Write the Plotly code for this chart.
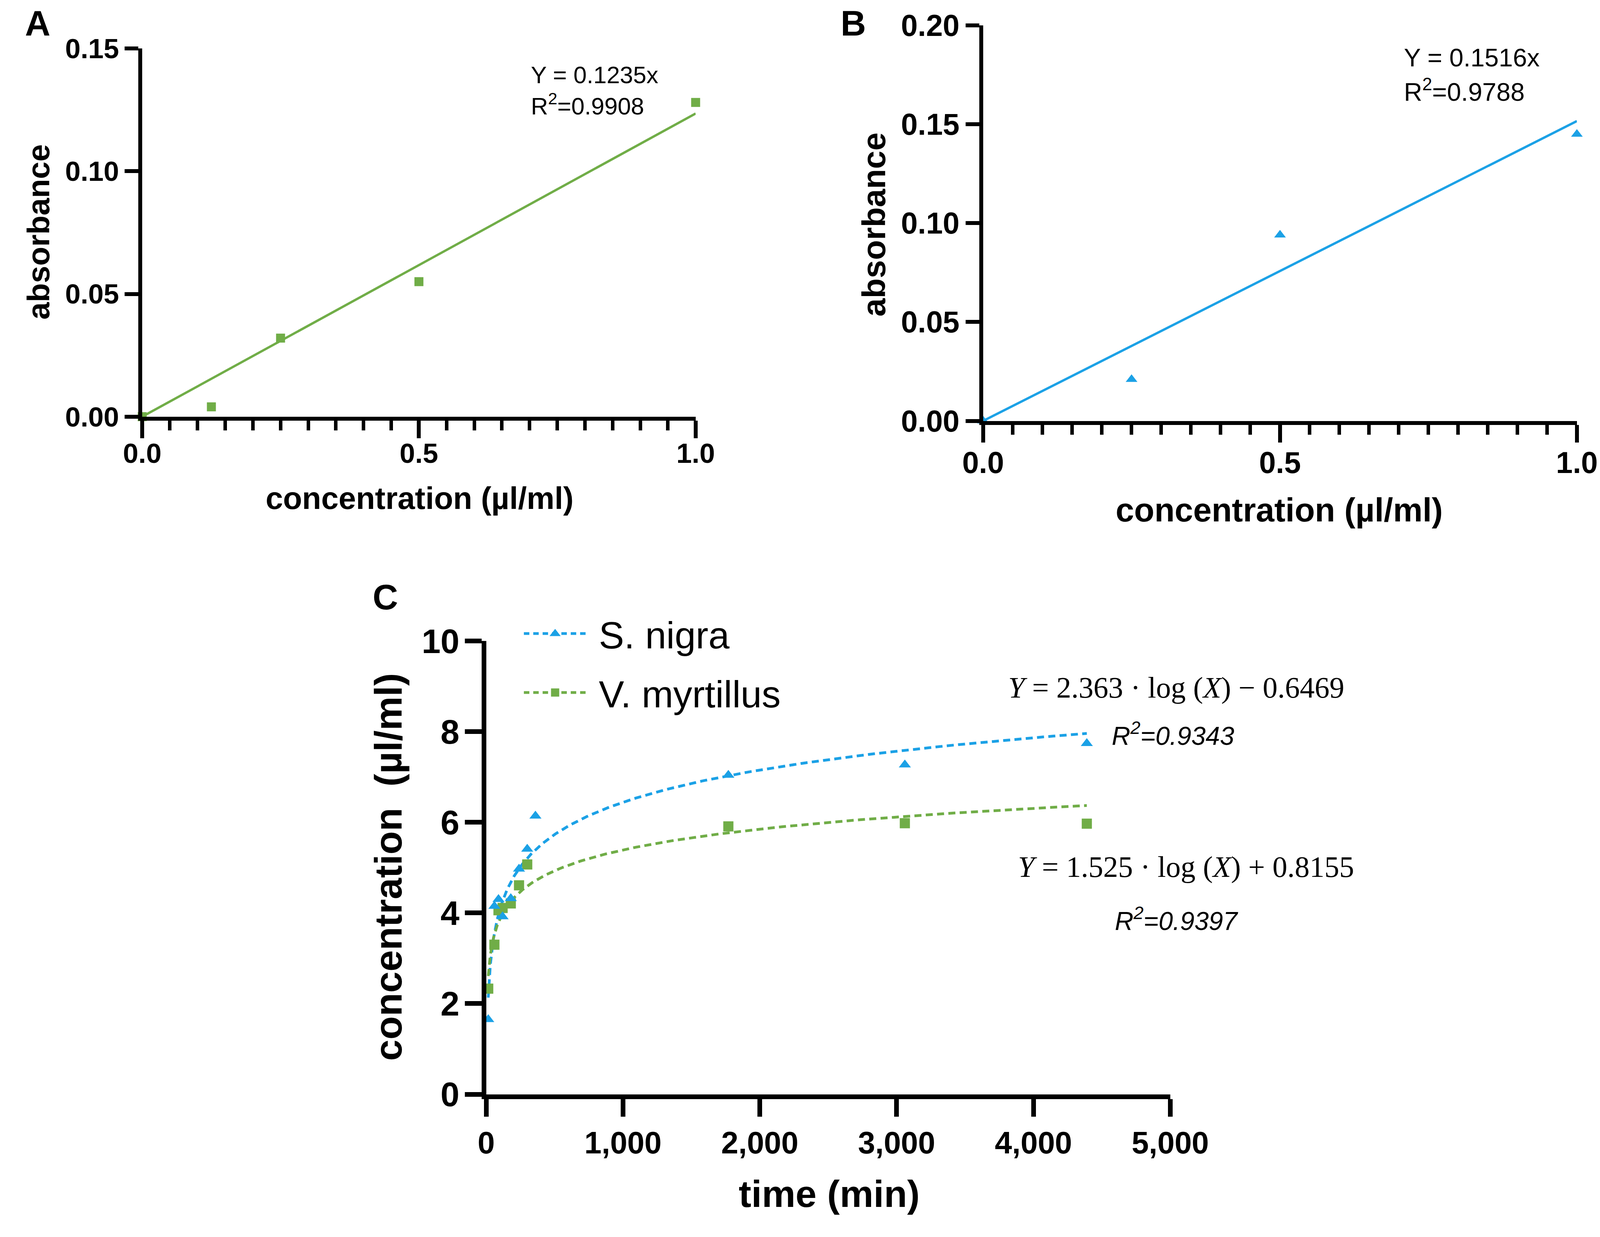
import numpy as np
import plotly.graph_objects as go

W, H = 4159, 3167
SANS = "Liberation Sans, Arial, sans-serif"
SERIF = "Liberation Serif, Times New Roman, serif"
GREEN = "#70AD47"
BLUE = "#1BA1E6"

# panel A - V. myrtillus standard curve
a_conc = [0.0, 0.125, 0.25, 0.5, 1.0]
a_abs = [0.0, 0.004, 0.032, 0.055, 0.128]
a_slope = 0.1235
a_r2 = 0.9908

# panel B - S. nigra standard curve
b_conc = [0.0, 0.25, 0.5, 1.0]
b_abs = [0.0, 0.021, 0.094, 0.145]
b_slope = 0.1516
b_r2 = 0.9788

# panel C - release over time
time_sn = [15, 60, 90, 120, 180, 240, 300, 360, 1770, 3060, 4390]
conc_sn = [1.65, 4.15, 4.30, 3.92, 4.32, 4.97, 5.41, 6.14, 7.04, 7.27, 7.74]
time_vm = [15, 60, 90, 120, 180, 240, 300, 1770, 3060, 4390]
conc_vm = [2.33, 3.30, 4.06, 4.11, 4.21, 4.61, 5.07, 5.91, 5.98, 5.97]
fit_sn = (2.363, -0.6469, 0.9343)   # slope, intercept, R2 (log10)
fit_vm = (1.525, 0.8155, 0.9397)

# layout positions are measured in target pixels; the capture comes out a bit
# shrunk and shifted, so map through a small correction
OX, OY, SX, SY = 55, 55, 0.979, 0.984


def px_x(p):
    return (p - OX) / SX / W


def px_y(p):
    return 1 - (p - OY) / SY / H


fig = go.Figure()

# A
xa = [min(a_conc), max(a_conc)]
fig.add_trace(go.Scatter(x=xa, y=[a_slope * v for v in xa], mode="lines",
                         line=dict(color=GREEN, width=6), showlegend=False,
                         xaxis="x", yaxis="y"))
fig.add_trace(go.Scatter(x=a_conc, y=a_abs, mode="markers", cliponaxis=False,
                         marker=dict(symbol="square", size=23, color=GREEN),
                         showlegend=False, xaxis="x", yaxis="y"))

# B
xb = [min(b_conc), max(b_conc)]
fig.add_trace(go.Scatter(x=xb, y=[b_slope * v for v in xb], mode="lines",
                         line=dict(color=BLUE, width=6), showlegend=False,
                         xaxis="x2", yaxis="y2"))
fig.add_trace(go.Scatter(x=b_conc, y=b_abs, mode="markers", cliponaxis=False,
                         marker=dict(symbol="triangle-up", size=26, color=BLUE),
                         showlegend=False, xaxis="x2", yaxis="y2"))

# C fit curves
dash = "18px,11px"
for t, (k, b, _), col in [(time_sn, fit_sn, BLUE), (time_vm, fit_vm, GREEN)]:
    xf = np.geomspace(min(t), max(t), 300)
    fig.add_trace(go.Scatter(x=xf, y=k * np.log10(xf) + b, mode="lines",
                             line=dict(color=col, width=7, dash=dash),
                             showlegend=False, xaxis="x3", yaxis="y3"))

fig.add_trace(go.Scatter(x=time_vm, y=conc_vm, mode="markers", cliponaxis=False,
                         marker=dict(symbol="square", size=26, color=GREEN),
                         showlegend=False, xaxis="x3", yaxis="y3"))
fig.add_trace(go.Scatter(x=time_sn, y=conc_sn, mode="markers", cliponaxis=False,
                         marker=dict(symbol="triangle-up", size=27, color=BLUE),
                         showlegend=False, xaxis="x3", yaxis="y3"))

# legend entries (line + marker); outline makes the capped legend marker larger
for name, sym, col, grp in [("S. nigra", "triangle-up", BLUE, "a"),
                            ("V. myrtillus", "square", GREEN, "b")]:
    fig.add_trace(go.Scatter(x=[None], y=[None], mode="lines+markers",
                             name="\u00a0" + name, legendgroup=grp,
                             line=dict(color=col, width=7, dash="14px,10px"),
                             marker=dict(symbol=sym, size=16, color=col,
                                         line=dict(color=col, width=5)),
                             xaxis="x3", yaxis="y3"))

axis_common = dict(showline=True, linecolor="black", ticks="outside",
                   tickcolor="black", showgrid=False, zeroline=False)


def tfont(size):
    return dict(family=SANS, size=size, color="black", weight="bold")


fig.update_layout(
    width=W, height=H,
    margin=dict(l=0, r=0, t=0, b=0),
    plot_bgcolor="white", paper_bgcolor="white",
    xaxis=dict(axis_common, domain=[px_x(362), px_x(1802)], anchor="y",
               range=[0, 1], tickvals=[0, 0.5, 1.0], tickformat=".1f",
               linewidth=10, tickwidth=10, ticklen=45, ticklabelstandoff=-22,
               tickfont=tfont(71),
               minor=dict(dtick=0.05, ticks="outside", ticklen=25, tickwidth=9,
                          tickcolor="black")),
    yaxis=dict(axis_common, domain=[px_y(1080), px_y(123)], anchor="x",
               range=[0, 0.15], dtick=0.05, tickformat=".2f",
               linewidth=10, tickwidth=10, ticklen=35, tickfont=tfont(71)),
    xaxis2=dict(axis_common, domain=[px_x(2550), px_x(4095)], anchor="y2",
                range=[0, 1], tickvals=[0, 0.5, 1.0], tickformat=".1f",
                linewidth=10, tickwidth=10, ticklen=45, ticklabelstandoff=-14,
                tickfont=tfont(77),
                minor=dict(dtick=0.05, ticks="outside", ticklen=25, tickwidth=9,
                           tickcolor="black")),
    yaxis2=dict(axis_common, domain=[px_y(1091), px_y(63)], anchor="x2",
                range=[0, 0.2], dtick=0.05, tickformat=".2f",
                linewidth=10, tickwidth=10, ticklen=35, tickfont=tfont(77)),
    xaxis3=dict(axis_common, domain=[px_x(1257), px_x(3037)], anchor="y3",
                range=[0, 5000], dtick=1000, tickformat=",",
                linewidth=12, tickwidth=12, ticklen=45, tickfont=tfont(79)),
    yaxis3=dict(axis_common, domain=[px_y(2841), px_y(1663)], anchor="x3",
                range=[0, 10], dtick=2, ticklabelstandoff=-4,
                linewidth=12, tickwidth=12, ticklen=43, tickfont=tfont(87)),
    legend=dict(x=px_x(1350), y=px_y(1573), xanchor="left", yanchor="top",
                bgcolor="rgba(0,0,0,0)", itemwidth=160, traceorder="grouped",
                tracegroupgap=22,
                font=dict(family=SANS, size=97, color="black")),
)

annotations = []


def add_text(text, x, y, size, bold=False, italic=False, family=SANS,
             xanchor="center", angle=0):
    annotations.append(dict(
        text=text, x=max(px_x(x), 0), y=px_y(y), xref="paper", yref="paper",
        showarrow=False, xanchor=xanchor, yanchor="middle", textangle=angle,
        font=dict(family=family, size=size, color="black",
                  weight="bold" if bold else "normal",
                  style="italic" if italic else "normal")))


# panel letters
add_text("A", 25, 58, 90, bold=True, xanchor="left")
add_text("B", 2212, 58, 90, bold=True)
add_text("C", 995, 1549, 90, bold=True)

# axis titles
add_text("absorbance", 92, 600, 80, bold=True, angle=-90)
add_text("concentration (µl/ml)", 1084, 1292, 80, bold=True)
add_text("absorbance", 2266, 580, 84, bold=True, angle=-90)
add_text("concentration (µl/ml)", 3321, 1322, 85, bold=True)
add_text("concentration  (µl/ml)", 1003, 2250, 98, bold=True, angle=-90)
add_text("time (min)", 2149, 3100, 97, bold=True)

# regression equations
add_text(f"Y = {a_slope}x", 1371, 192, 61, xanchor="left")
add_text(f"R<sup>2</sup>={a_r2}", 1371, 268, 61, xanchor="left")
add_text(f"Y = {b_slope}x", 3643, 147, 65, xanchor="left")
add_text(f"R<sup>2</sup>={b_r2}", 3643, 232, 65, xanchor="left")

k, b, r2 = fit_sn
add_text(f"<i>Y</i> = {k} · log (<i>X</i>) − {abs(b)}", 2613, 1784, 76,
         family=SERIF, xanchor="left")
add_text(f"R<sup>2</sup>={r2}", 3044, 1905, 66, italic=True)
k, b, r2 = fit_vm
add_text(f"<i>Y</i> = {k} · log (<i>X</i>) + {b}", 2639, 2250, 76,
         family=SERIF, xanchor="left")
add_text(f"R<sup>2</sup>={r2}", 3053, 2386, 66, italic=True)

fig.update_layout(annotations=annotations)

fig.write_html("out.html")
